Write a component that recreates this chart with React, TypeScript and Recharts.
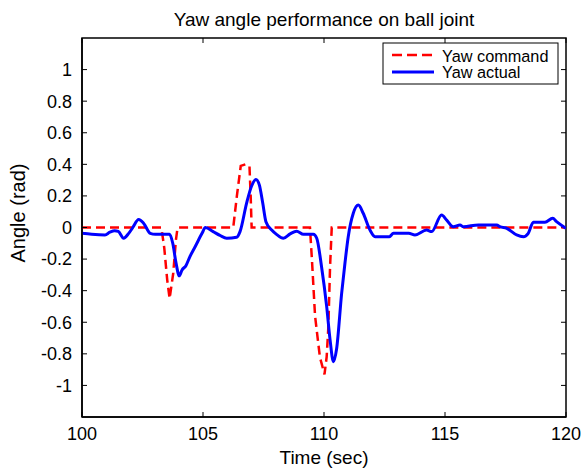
import { LineChart, Line, XAxis, YAxis, Customized } from "recharts";

const xTicks = [100, 105, 110, 115, 120];
const yTicks = [-1, -0.8, -0.6, -0.4, -0.2, 0, 0.2, 0.4, 0.6, 0.8, 1];

// commanded yaw (rad) vs time (s)
const cmdTime = [
  100, 103.28, 103.4, 103.52, 103.62, 103.77, 103.88, 103.95,
  106.25, 106.4, 106.56, 106.75, 106.92, 106.97, 107.01,
  109.42, 109.5, 109.63, 109.83, 110.02, 110.11, 110.18, 110.25, 110.32, 120,
];
const cmdAngle = [
  0, 0, -0.13, -0.33, -0.45, -0.29, -0.08, 0,
  0, 0.2, 0.39, 0.4, 0.39, 0.2, 0,
  0, -0.2, -0.56, -0.82, -0.93, -0.82, -0.63, -0.25, 0, 0,
];

// measured yaw (rad) vs time (s)
const actTime = [
  100, 100.4, 100.95, 101.15, 101.35, 101.5, 101.72, 101.93, 102.1, 102.34,
  102.55, 102.82, 103.03, 103.62, 103.75, 103.88, 104.02, 104.13, 104.3, 104.46,
  104.68, 104.96, 105.1, 105.42, 105.7, 105.98, 106.39, 106.53, 106.8, 107.0,
  107.19, 107.33, 107.47, 107.6, 107.84, 108.05, 108.32, 108.6, 108.87, 109.15,
  109.56, 109.7, 109.9, 110.11, 110.25, 110.39, 110.52, 110.73, 110.87, 111.0,
  111.21, 111.42, 111.62, 111.9, 112.11, 112.7, 112.87, 113.5, 113.76, 114.24,
  114.45, 114.86, 115.07, 115.34, 115.62, 115.76, 116.38, 117.14, 117.27, 117.55,
  117.96, 118.24, 118.44, 118.65, 119.13, 119.45, 119.61, 119.9, 120,
];
const actAngle = [
  -0.037, -0.043, -0.047, -0.03, -0.02, -0.025, -0.068, -0.037, 0.0, 0.05,
  0.026, -0.037, -0.043, -0.043, -0.1, -0.22, -0.306, -0.27, -0.24, -0.184,
  -0.12, -0.037, 0.0, -0.026, -0.05, -0.068, -0.062, -0.026, 0.153, 0.26,
  0.304, 0.268, 0.153, 0.037, -0.016, -0.045, -0.068, -0.04, -0.023, -0.043,
  -0.043, -0.068, -0.25, -0.5, -0.71, -0.85, -0.77, -0.415, -0.22, -0.06,
  0.09, 0.142, 0.09, -0.016, -0.058, -0.058, -0.037, -0.037, -0.047, -0.016,
  -0.026, 0.079, 0.047, 0.005, 0.016, 0.005, 0.016, 0.016, 0.005, -0.005,
  -0.047, -0.058, -0.037, 0.033, 0.033, 0.058, 0.037, 0.005, -0.005,
];

const cmdData = cmdTime.map((t, i) => ({ t, angle: cmdAngle[i] }));
const actData = actTime.map((t, i) => ({ t, angle: actAngle[i] }));

const X_MIN = 100;
const X_MAX = 120;
const Y_MIN = -1.2;
const Y_MAX = 1.2;

const W = 582;
const H = 472;
const M = { top: 38, right: 16, bottom: 0, left: 0 };
const Y_AXIS_W = 82;
const X_AXIS_H = 55;
// axes box in pixels
const BL = M.left + Y_AXIS_W;
const BT = M.top;
const BR = W - M.right;
const BB = H - M.bottom - X_AXIS_H;
const px = (t: number) => BL + ((t - X_MIN) / (X_MAX - X_MIN)) * (BR - BL);
const py = (v: number) => BB - ((v - Y_MIN) / (Y_MAX - Y_MIN)) * (BB - BT);

const FONT = '"Liberation Sans", Arial, Helvetica, sans-serif';
const RED = "#ff0000";
const BLUE = "#0000ff";

const tickStyle = { fill: "#000", fontSize: 18, fontFamily: FONT };
const frameLine = { stroke: "#000", strokeWidth: 1.5 };
const tickMark = { stroke: "#000", strokeWidth: 1 };

// closed box around the plot with inward ticks on the top and right sides
function Frame() {
  const topTicks = xTicks.map((t) => `M${px(t)},${BT}V${BT + 5}`).join("");
  const rightTicks = yTicks.map((v) => `M${BR - 5},${py(v)}H${BR}`).join("");
  return (
    <g>
      <rect x={BL} y={BT} width={BR - BL} height={BB - BT} fill="none" stroke="#000" strokeWidth={1.5} />
      <path d={topTicks + rightTicks} fill="none" stroke="#000" strokeWidth={1} />
    </g>
  );
}

function Annotations() {
  return (
    <g fontFamily={FONT} fill="#000">
      <text x={324} y={26} fontSize={19} textAnchor="middle">
        Yaw angle performance on ball joint
      </text>
      <text x={324} y={464} fontSize={19} textAnchor="middle">
        Time (sec)
      </text>
      <text
        x={18}
        y={213}
        fontSize={20}
        textAnchor="middle"
        dominantBaseline="central"
        transform="rotate(-90 18 213)"
      >
        Angle (rad)
      </text>

      <rect x={383} y={43} width={175} height={41} fill="#fff" stroke="#000" strokeWidth={1} />
      <line x1={392} y1={55} x2={434} y2={55} stroke={RED} strokeWidth={2.5} strokeDasharray="10 5" />
      <text x={442} y={61.5} fontSize={16.3}>Yaw command</text>
      <line x1={392} y1={72} x2={434} y2={72} stroke={BLUE} strokeWidth={3} />
      <text x={442} y={78} fontSize={16.3}>Yaw actual</text>
    </g>
  );
}

export default function App() {
  return (
    <div style={{ position: "absolute", left: 0, top: 0, width: W, height: H, background: "#fff" }}>
      <LineChart width={W} height={H} margin={M}>
        <XAxis
          dataKey="t"
          type="number"
          domain={[X_MIN, X_MAX]}
          ticks={xTicks}
          allowDataOverflow
          height={X_AXIS_H}
          tickSize={-5}
          tickMargin={15}
          tick={tickStyle}
          axisLine={frameLine}
          tickLine={tickMark}
        />
        <YAxis
          type="number"
          domain={[Y_MIN, Y_MAX]}
          ticks={yTicks}
          allowDataOverflow
          width={Y_AXIS_W}
          tickSize={-5}
          tickMargin={15}
          tick={tickStyle}
          axisLine={frameLine}
          tickLine={tickMark}
        />
        <Customized component={Frame} />
        <Line
          data={cmdData}
          dataKey="angle"
          name="Yaw command"
          type="linear"
          stroke={RED}
          strokeWidth={2.5}
          strokeDasharray="9 5"
          dot={false}
          activeDot={false}
          isAnimationActive={false}
        />
        <Line
          data={actData}
          dataKey="angle"
          name="Yaw actual"
          type="monotone"
          stroke={BLUE}
          strokeWidth={3}
          dot={false}
          activeDot={false}
          isAnimationActive={false}
        />
        <Customized component={Annotations} />
      </LineChart>
    </div>
  );
}
